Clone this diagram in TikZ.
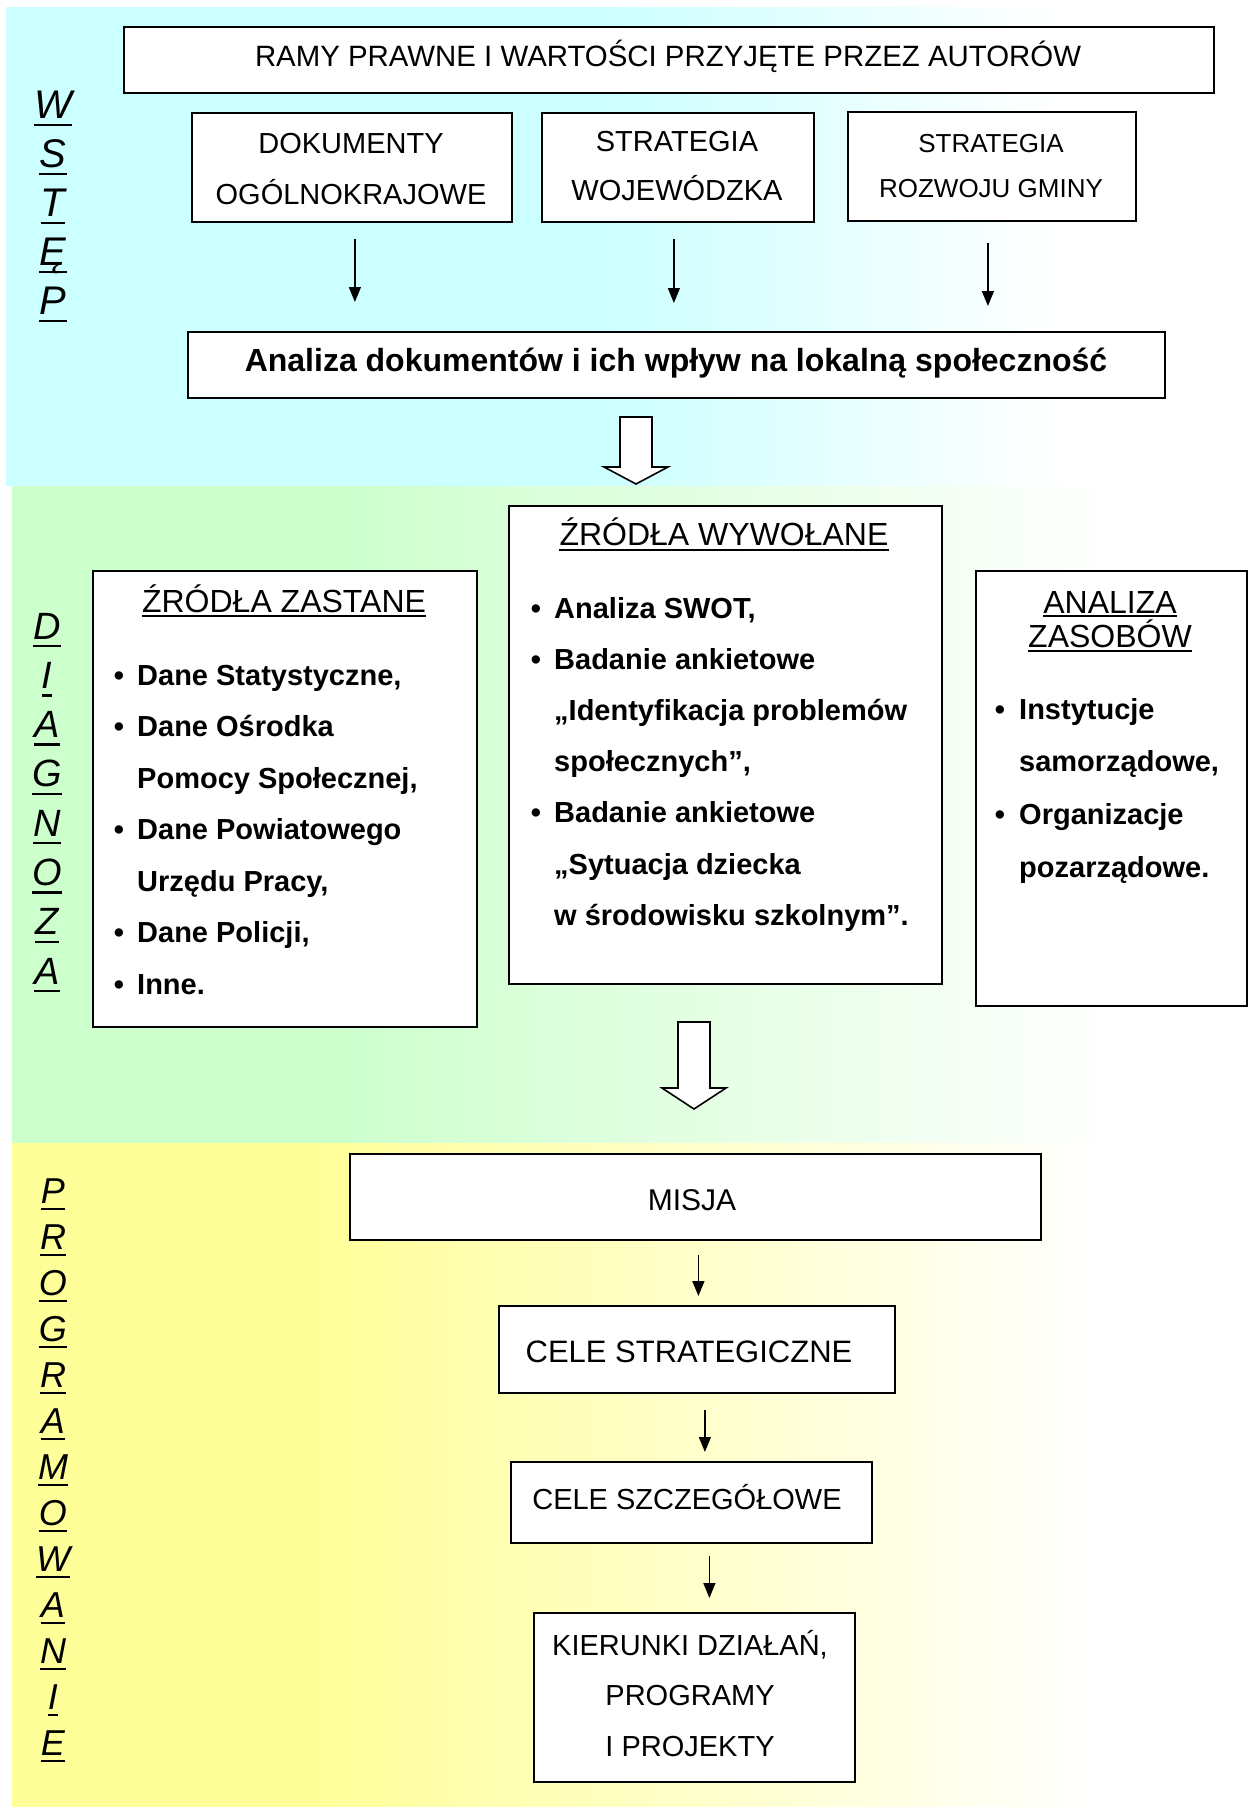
\documentclass[tikz,border=0pt]{standalone}
\usepackage{fontspec}
\setmainfont{Liberation Sans}
\usetikzlibrary{arrows.meta}
\definecolor{cyanbg}{RGB}{204,255,255}
\definecolor{greenbg}{RGB}{204,255,204}
\definecolor{yellowbg}{RGB}{255,255,153}
\newcommand{\fsz}[1]{\fontsize{#1}{#1}\selectfont}
\begin{document}
\begin{tikzpicture}[x=1pt,y=-1pt,
  box/.style={draw=black, line width=1.8pt, fill=white, inner sep=0pt, anchor=north west},
  txt/.style={inner sep=0pt, anchor=base},
  ltxt/.style={inner sep=0pt, anchor=base west},
  arr/.style={-{Triangle[length=15pt,width=12pt]}, line width=1.4pt},
  blockarrow/.style={draw=black, fill=white, line width=1.6pt, line join=miter},
  side/.style={inner sep=0pt, anchor=base, font=\itshape},
  uline/.style={line width=2.5pt},
]
\useasboundingbox (0,0) rectangle (1250,1807);
% ---------- background bands ----------
\fill[cyanbg] (6,7) rectangle (600,486);
\shade[left color=cyanbg, right color=white] (599,7) rectangle (1060,486);
\fill[greenbg] (12,486) rectangle (330,1143);
\shade[left color=greenbg, right color=white] (329,486) rectangle (1120,1143);
\fill[yellowbg] (12,1143) rectangle (310,1807);
\shade[left color=yellowbg, right color=white] (309,1143) rectangle (1100,1807);

% ---------- side labels ----------
\foreach \L [count=\i] in {W,S,T,Ę,P} {
  \node[side, font=\fsz{40}\itshape] (wst\i) at (53,{118+49*(\i-1)}) {\L};
  \draw[uline] ([yshift=-7pt]wst\i.base west) -- ([yshift=-7pt]wst\i.base east);
}
\foreach \L [count=\i] in {D,I,A,G,N,O,Z,A} {
  \node[side, font=\fsz{38}\itshape] (dia\i) at (47,{639+49.3*(\i-1)}) {\L};
  \draw[uline] ([yshift=-7pt]dia\i.base west) -- ([yshift=-7pt]dia\i.base east);
}
\foreach \L [count=\i] in {P,R,O,G,R,A,M,O,W,A,N,I,E} {
  \node[side, font=\fsz{36}\itshape] (pro\i) at (53,{1203+46*(\i-1)}) {\L};
  \draw[uline] ([yshift=-6pt]pro\i.base west) -- ([yshift=-6pt]pro\i.base east);
}

% ---------- WSTEP ----------
\node[box, minimum width=1090pt, minimum height=66pt] (ramy) at (123,26) {};
\node[txt, font=\fsz{29.4}] (ramyT) at (668,66) {RAMY PRAWNE I WARTOŚCI PRZYJĘTE PRZEZ AUTORÓW};

\node[box, minimum width=320pt, minimum height=109pt] (dok) at (191,112) {};
\node[txt, font=\fsz{29}] (dokT1) at (351,153) {DOKUMENTY};
\node[txt, font=\fsz{29}] (dokT2) at (351,204) {OGÓLNOKRAJOWE};

\node[box, minimum width=272pt, minimum height=109pt] (str) at (541,112) {};
\node[txt, font=\fsz{29}] (strT1) at (677,151) {STRATEGIA};
\node[txt, font=\fsz{29}] (strT2) at (677,200) {WOJEWÓDZKA};

\node[box, minimum width=288pt, minimum height=109pt] (gmi) at (847,111) {};
\node[txt, font=\fsz{26}] (gmiT1) at (991,152) {STRATEGIA};
\node[txt, font=\fsz{26}] (gmiT2) at (991,197) {ROZWOJU GMINY};

\node[box, minimum width=977pt, minimum height=66pt] (ana) at (187,331) {};
\node[txt, font=\fsz{32}\bfseries] (anaT) at (676,371) {Analiza dokumentów i ich wpływ na lokalną społeczność};

\coordinate (c1) at ([xshift=3pt]dok.south);
\coordinate (c2) at ([xshift=-4pt]str.south);
\coordinate (c3) at ([xshift=-4pt]gmi.south);
\draw[arr, shorten <=16pt, shorten >=29pt] (c1) -- (c1 |- ana.north);
\draw[arr, shorten <=16pt, shorten >=28pt] (c2) -- (c2 |- ana.north);
\draw[arr, shorten <=21pt, shorten >=25pt] (c3) -- (c3 |- ana.north);

\draw[blockarrow] (620,417) -- (652,417) -- (652,467) -- (668,467) -- (636,484) -- (604,467) -- (620,467) -- cycle;

% ---------- DIAGNOZA ----------
\node[box, minimum width=384pt, minimum height=456pt] (zas) at (92,570) {};
\node[txt, font=\fsz{32}] (zasT) at (284,612) {ŹRÓDŁA ZASTANE};
\draw[line width=2pt] ([yshift=-4pt]zasT.base west) -- ([yshift=-4pt]zasT.base east);
\foreach \t/\b [count=\i] in {{Dane Statystyczne,}/1,{Dane Ośrodka}/1,{Pomocy Społecznej,}/0,{Dane Powiatowego}/1,{Urzędu Pracy,}/0,{Dane Policji,}/1,{Inne.}/1} {
  \node[ltxt, font=\fsz{29}\bfseries] (zasL\i) at (137,{685+51.5*(\i-1)}) {\t};
  \ifnum\b=1 \node[txt, font=\fsz{29}\bfseries] (zasB\i) at (119,{685+51.5*(\i-1)}) {•}; \fi
}

\node[box, minimum width=433pt, minimum height=478pt] (wyw) at (508,505) {};
\node[txt, font=\fsz{32}] (wywT) at (724,545) {ŹRÓDŁA WYWOŁANE};
\draw[line width=2pt] ([yshift=-5pt]wywT.base west) -- ([yshift=-5pt]wywT.base east);
\foreach \t/\b [count=\i] in {{Analiza SWOT,}/1,{Badanie ankietowe}/1,{„Identyfikacja problemów}/0,{społecznych”,}/0,{Badanie ankietowe}/1,{„Sytuacja dziecka}/0,{w środowisku szkolnym”.}/0} {
  \node[ltxt, font=\fsz{29}\bfseries] (wywL\i) at (554,{618+51.2*(\i-1)}) {\t};
  \ifnum\b=1 \node[txt, font=\fsz{29}\bfseries] (wywB\i) at (536,{618+51.2*(\i-1)}) {•}; \fi
}

\node[box, minimum width=271pt, minimum height=435pt] (zsb) at (975,570) {};
\node[txt, font=\fsz{32}] (zsbT1) at (1110,613) {ANALIZA};
\node[txt, font=\fsz{32}] (zsbT2) at (1110,647) {ZASOBÓW};
\draw[line width=2pt] ([yshift=-3pt]zsbT1.base west) -- ([yshift=-3pt]zsbT1.base east);
\draw[line width=2pt] ([yshift=-4pt]zsbT2.base west) -- ([yshift=-4pt]zsbT2.base east);
\foreach \t/\b [count=\i] in {{Instytucje}/1,{samorządowe,}/0,{Organizacje}/1,{pozarządowe.}/0} {
  \node[ltxt, font=\fsz{29}\bfseries] (zsbL\i) at (1019,{719+52.7*(\i-1)}) {\t};
  \ifnum\b=1 \node[txt, font=\fsz{29}\bfseries] (zsbB\i) at (1000,{719+52.7*(\i-1)}) {•}; \fi
}

\draw[blockarrow] (678,1022) -- (710,1022) -- (710,1088) -- (726,1088) -- (694,1109) -- (662,1088) -- (678,1088) -- cycle;

% ---------- PROGRAMOWANIE ----------
\node[box, minimum width=691pt, minimum height=86pt] (misja) at (349,1153) {};
\node[txt, font=\fsz{30}] (misjaT) at (692,1210) {MISJA};

\node[box, minimum width=396pt, minimum height=87pt] (cs) at (498,1305) {};
\node[txt, font=\fsz{31}] (csT) at (689,1362) {CELE STRATEGICZNE};

\node[box, minimum width=361pt, minimum height=81pt] (sz) at (510,1461) {};
\node[txt, font=\fsz{29}] (szT) at (687,1509) {CELE SZCZEGÓŁOWE};

\node[box, minimum width=321pt, minimum height=169pt] (kier) at (533,1612) {};
\node[txt, font=\fsz{29}] (kierT1) at (690,1655) {KIERUNKI DZIAŁAŃ,};
\node[txt, font=\fsz{29}] (kierT2) at (690,1705) {PROGRAMY};
\node[txt, font=\fsz{29}] (kierT3) at (690,1756) {I PROJEKTY};

\coordinate (p1) at ([xshift=3pt]misja.south);
\coordinate (p2) at ([xshift=8pt]cs.south);
\coordinate (p3) at ([xshift=18pt]sz.south);
\draw[arr, shorten <=14pt, shorten >=9pt] (p1) -- (p1 |- cs.north);
\draw[arr, shorten <=16pt, shorten >=9pt] (p2) -- (p2 |- sz.north);
\draw[arr, shorten <=12pt, shorten >=14pt] (p3) -- (p3 |- kier.north);
\end{tikzpicture}
\end{document}
